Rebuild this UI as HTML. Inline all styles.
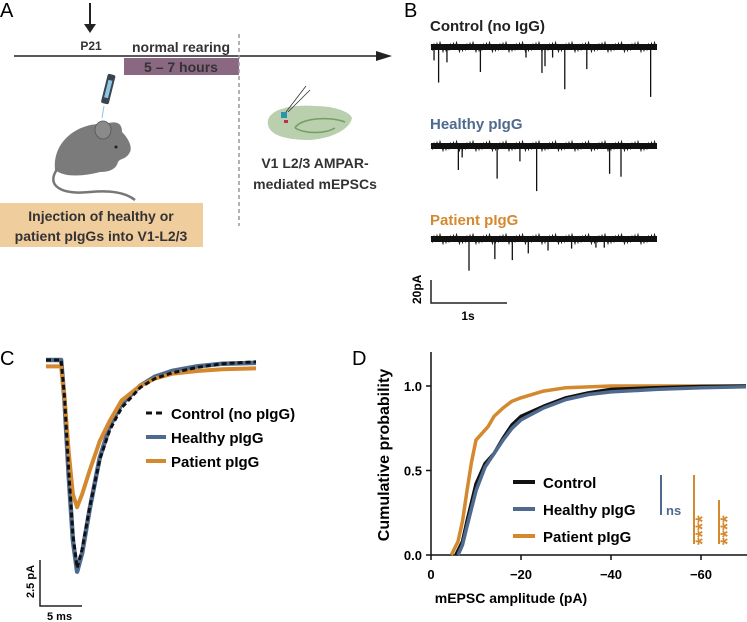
<!DOCTYPE html>
<html><head><meta charset="utf-8"><style>
html,body{margin:0;padding:0;background:#fff;}
svg{display:block;font-family:"Liberation Sans",Arial,sans-serif;}
.b{font-weight:bold;}
</style></head><body>
<svg id="fig" width="747" height="622" viewBox="0 0 747 622">
<!-- Panel A -->
<g>
<text x="0" y="17" font-size="20">A</text>
<line x1="90" y1="3" x2="90" y2="28" stroke="#222" stroke-width="2"/>
<polygon points="84,24 96,24 90,33" fill="#222"/>
<text x="91" y="50" font-size="12" class="b" text-anchor="middle" fill="#333">P21</text>
<text x="181" y="52" font-size="14" class="b" text-anchor="middle" fill="#333">normal rearing</text>
<line x1="14" y1="56" x2="383" y2="56" stroke="#222" stroke-width="1.5"/>
<polygon points="376,51 392,56 376,61" fill="#222"/>
<rect x="124" y="58" width="115" height="17" fill="#8a6882"/>
<text x="181" y="72" font-size="14" class="b" text-anchor="middle" fill="#333">5 – 7 hours</text>
<line x1="239" y1="34" x2="239" y2="226" stroke="#999" stroke-width="1.5" stroke-dasharray="4,3"/>
<g>
<rect x="104" y="74" width="8" height="30" rx="2" fill="#3a4450" transform="rotate(14 108 90)"/>
<rect x="106" y="80" width="4" height="18" fill="#8ec5e0" transform="rotate(14 108 90)"/>
<line x1="104" y1="106" x2="102" y2="118" stroke="#8ec5e0" stroke-width="1"/>
</g>
<g>
<path d="M55,170 C52,140 80,122 105,124 C118,120 122,124 122,132 C130,140 132,148 130,152 C126,160 120,158 118,162 C116,170 108,172 100,172 C85,176 65,178 55,170 Z" fill="#7b7b7b"/>
<ellipse cx="103" cy="130" rx="8" ry="9" fill="#8a8a8a" stroke="#555" stroke-width="0.8"/>
<circle cx="116" cy="147" r="1.5" fill="#222"/>
<path d="M58,168 C45,185 60,195 90,192 C110,190 125,192 135,200" fill="none" stroke="#777" stroke-width="2.5"/>
</g>
<rect x="0" y="203" width="203" height="44" fill="#f0cd9d"/>
<text x="101" y="221" font-size="14" class="b" text-anchor="middle" fill="#333">Injection of healthy or</text>
<text x="101" y="241" font-size="14" class="b" text-anchor="middle" fill="#333">patient pIgGs into V1-L2/3</text>
<g>
<path d="M268,125 C265,110 290,104 315,106 C335,106 350,112 352,118 C350,128 335,138 310,140 C285,140 270,135 268,125 Z" fill="#b9cfae"/>
<path d="M295,128 C300,118 330,116 345,122 M295,128 C305,134 325,134 335,128" fill="none" stroke="#6fa063" stroke-width="1.5"/>
<rect x="281" y="112" width="6" height="6" fill="#2b95b0"/>
<rect x="284" y="120" width="4" height="3" fill="#c0304a"/>
<line x1="286" y1="112" x2="306" y2="86" stroke="#333" stroke-width="0.8"/>
<line x1="288" y1="112" x2="310" y2="90" stroke="#333" stroke-width="0.8"/>
</g>
<text x="315" y="168" font-size="14" class="b" text-anchor="middle" fill="#333">V1 L2/3 AMPAR-</text>
<text x="315" y="189" font-size="14" class="b" text-anchor="middle" fill="#333">mediated mEPSCs</text>
</g>
<!-- Panel B -->
<g id="panelB">
<text x="404" y="17" font-size="20">B</text>
<text x="430" y="31" font-size="15" class="b" fill="#222">Control (no IgG)</text>
<text x="430" y="129" font-size="15" class="b" fill="#4e6a8e">Healthy pIgG</text>
<text x="430" y="225" font-size="15" class="b" fill="#d4892f">Patient pIgG</text>
<path d="M431,280 L431,303 L507,303" fill="none" stroke="#222" stroke-width="1.5"/>
<text transform="translate(421,304) rotate(-90)" font-size="12" class="b">20pA</text>
<text x="468" y="320" font-size="12" class="b" text-anchor="middle">1s</text>
</g>
<!-- Panel C -->
<g id="panelC">
<text x="0" y="365" font-size="20">C</text>
<line x1="146" y1="413" x2="166" y2="413" stroke="#111" stroke-width="3" stroke-dasharray="6,4"/>
<text x="171" y="419" font-size="15" class="b">Control (no pIgG)</text>
<line x1="146" y1="437" x2="166" y2="437" stroke="#4e6a8e" stroke-width="4"/>
<text x="171" y="443" font-size="15" class="b">Healthy pIgG</text>
<line x1="146" y1="461" x2="166" y2="461" stroke="#d4892f" stroke-width="4"/>
<text x="171" y="467" font-size="15" class="b">Patient pIgG</text>
<path d="M40,560 L40,606 L82,606" fill="none" stroke="#222" stroke-width="1.5"/>
<text transform="translate(34,598) rotate(-90)" font-size="11" class="b">2.5 pA</text>
<text x="47" y="620" font-size="11" class="b">5 ms</text>
</g>
<!-- Panel D -->
<g id="panelD">
<text x="352" y="365" font-size="20">D</text>
<text transform="translate(389,455) rotate(-90)" font-size="16" class="b" text-anchor="middle">Cumulative probability</text>
<text x="511" y="603" font-size="14" class="b" text-anchor="middle">mEPSC amplitude (pA)</text>
<line x1="513" y1="482" x2="535" y2="482" stroke="#111" stroke-width="4"/>
<text x="543" y="488" font-size="15" class="b">Control</text>
<line x1="513" y1="509" x2="535" y2="509" stroke="#4e6a8e" stroke-width="4"/>
<text x="543" y="515" font-size="15" class="b">Healthy pIgG</text>
<line x1="513" y1="536" x2="535" y2="536" stroke="#d4892f" stroke-width="4"/>
<text x="543" y="542" font-size="15" class="b">Patient pIgG</text>
<line x1="661" y1="475" x2="661" y2="515" stroke="#4e6a8e" stroke-width="2"/>
<text x="666" y="515" font-size="13" class="b" fill="#4e6a8e">ns</text>
<line x1="694" y1="475" x2="694" y2="544" stroke="#d4892f" stroke-width="2"/>
<text transform="translate(709,545) rotate(-90)" font-size="19" class="b" fill="#d4892f">****</text>
<line x1="719" y1="500" x2="719" y2="544" stroke="#d4892f" stroke-width="2"/>
<text transform="translate(734,545) rotate(-90)" font-size="19" class="b" fill="#d4892f">****</text>
</g>
</svg>
<script>
// ---- Panel C data: averaged mEPSC waveforms (time in ms, current in pA) ----
const cTimes = [0,1,1.8,2.2,2.7,3.2,3.7,4.3,5.2,6.4,7.6,9,11.2,13,15,18,21,25];
const cControl = [0,0,0,-2,-6,-9.5,-11.3,-10.3,-8,-5.4,-3.8,-2.6,-1.5,-1.0,-0.7,-0.4,-0.2,-0.1];
const cHealthy = [0,0,0,-2.2,-6.3,-9.8,-11.5,-10.5,-8.1,-5.3,-3.6,-2.4,-1.4,-0.9,-0.6,-0.35,-0.2,-0.15];
const cPatient = [-0.35,-0.35,-0.35,-2,-5,-7.3,-8.0,-7.3,-6,-4.4,-3.3,-2.2,-1.4,-1.0,-0.75,-0.6,-0.5,-0.45];
// ---- Panel D data: cumulative distributions ----
const dControlAmp = [5.5,7,8,10,12,14,16,18,20,25,30,35,40,50,60,70];
const dControlP = [0,0.08,0.2,0.42,0.54,0.6,0.69,0.77,0.82,0.88,0.93,0.96,0.98,0.99,0.997,1.0];
const dHealthyAmp = [6,7,8,10,12,14,16,18,20,25,30,35,40,50,60,70];
const dHealthyP = [0,0.06,0.17,0.38,0.52,0.6,0.68,0.75,0.8,0.87,0.92,0.95,0.965,0.98,0.99,0.995];
const dPatientAmp = [4.5,6,7,8,9,10,12.7,14,16,18,20,25,30,40,70];
const dPatientP = [0,0.08,0.2,0.38,0.55,0.68,0.76,0.82,0.87,0.91,0.93,0.97,0.99,1,1];
const dXTicks = [0,-20,-40,-60];
const dYTicks = [0.0,0.5,1.0];
// ---- Panel B data: event spikes (time in s, amplitude in pA) ----
const bControlT = [0.04,0.1,0.21,0.65,1.25,1.46,1.5,1.6,1.76,2.05,2.89];
const bControlA = [-14,-37,-16,-26,-11,-27,-20,-11,-44,-23,-52];
const bHealthyT = [0.36,0.41,0.87,1.17,1.39,2.35,2.5];
const bHealthyA = [-25,-12,-34,-16,-47,-29,-32];
const bPatientT = [0.5,0.84,1.07,1.28,1.54,1.85,2.17,2.28];
const bPatientA = [-33,-21,-22,-15,-12,-10,-9,-9];

const NS='http://www.w3.org/2000/svg';
const svg=document.getElementById('fig');
function mk(tag,attrs,parent){const e=document.createElementNS(NS,tag);for(const k in attrs)e.setAttribute(k,attrs[k]);(parent||svg).appendChild(e);return e;}

// Panel C
const gC=document.getElementById('panelC');
const cx=t=>46+t*8.4, cy=v=>360-v*18.4;
function cPath(vals){return cTimes.map((t,i)=>(i?'L':'M')+cx(t).toFixed(1)+','+cy(vals[i]).toFixed(1)).join(' ');}
let p;
p=mk('path',{d:cPath(cHealthy),fill:'none',stroke:'#4e6a8e','stroke-width':4.5,'stroke-linejoin':'round'},gC);


p=mk('path',{d:cPath(cPatient),fill:'none',stroke:'#d4892f','stroke-width':4,'stroke-linejoin':'round'},gC);


p=mk('path',{d:cPath(cControl),fill:'none',stroke:'#111','stroke-width':3,'stroke-dasharray':'5,3','stroke-linejoin':'round'},gC);



// Panel D
const gD=document.getElementById('panelD');
const dx=a=>431+Math.abs(a)*4.5, dy=v=>555-v*169;
let ax=mk('path',{d:'M431,352 L431,555 L747,555',fill:'none',stroke:'#111','stroke-width':1.5},gD);


dXTicks.forEach(v=>{
  mk('line',{x1:dx(v),y1:555,x2:dx(v),y2:560,stroke:'#111','stroke-width':1.5},gD);
  const t=mk('text',{x:dx(v),y:579,'font-size':13,'font-weight':'bold','text-anchor':'middle'},gD);
  t.textContent=v===0?'0':'\u2212'+Math.abs(v);
  
  
});
dYTicks.forEach(v=>{
  mk('line',{x1:426,y1:dy(v),x2:431,y2:dy(v),stroke:'#111','stroke-width':1.5},gD);
  const t=mk('text',{x:422,y:dy(v)+5,'font-size':13,'font-weight':'bold','text-anchor':'end'},gD);
  t.textContent=v.toFixed(1);
  
  
});
function dPath(a,pv){return a.map((x,i)=>(i?'L':'M')+dx(x).toFixed(1)+','+dy(pv[i]).toFixed(1)).join(' ');}
p=mk('path',{d:dPath(dPatientAmp,dPatientP),fill:'none',stroke:'#d4892f','stroke-width':3.5,'stroke-linejoin':'round'},gD);


p=mk('path',{d:dPath(dControlAmp,dControlP),fill:'none',stroke:'#111','stroke-width':3.5,'stroke-linejoin':'round'},gD);


p=mk('path',{d:dPath(dHealthyAmp,dHealthyP),fill:'none',stroke:'#4e6a8e','stroke-width':3.5,'stroke-linejoin':'round'},gD);



// Panel B traces
const gB=document.getElementById('panelB');
const bx=t=>431+t*76, bScale=0.96;
function trace(base,T,A,name){
  const band=mk('rect',{x:431,y:base-3,width:226,height:6,fill:'#111'},gB);
  
  
  let d='';
  for(let x=431;x<=657;x+=1.5){const j=((Math.round(x*2)*53)%11)/10; d+=(x===431?'M':'L')+x+','+(base-5+j*10).toFixed(1)+' ';}
  mk('path',{d:d,fill:'none',stroke:'#111','stroke-width':0.7},gB);
  T.forEach((t,i)=>{
    const s=mk('line',{x1:bx(t),y1:base,x2:bx(t),y2:base-A[i]*bScale,stroke:'#111','stroke-width':1.3},gB);
    
    
  });
}
trace(47,bControlT,bControlA,'control');
trace(146,bHealthyT,bHealthyA,'healthy');
trace(239,bPatientT,bPatientA,'patient');
</script>
</body></html>
